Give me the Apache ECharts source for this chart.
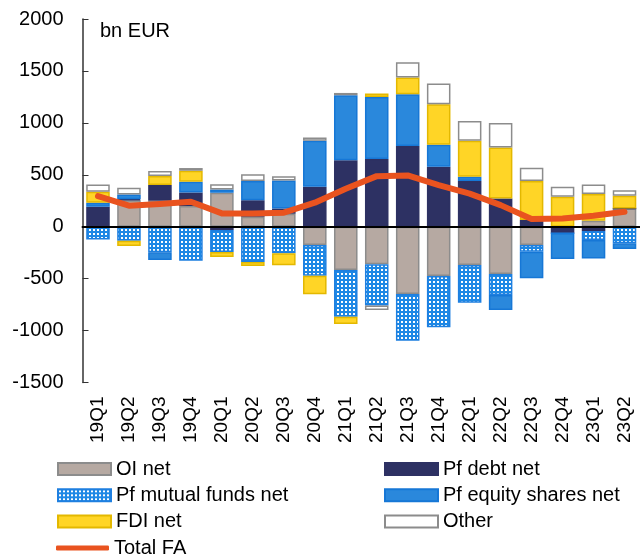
<!DOCTYPE html>
<html>
<head>
<meta charset="utf-8">
<script src="https://cdn.jsdelivr.net/npm/echarts@6/dist/echarts.min.js"></script>
<style>
  html, body { margin: 0; padding: 0; background: #fff; }
  #chart { width: 640px; height: 557px; }
</style>
</head>
<body>
<div id="chart"></div>
<script>
var quarters = ['19Q1', '19Q2', '19Q3', '19Q4', '20Q1', '20Q2', '20Q3', '20Q4', '21Q1',
                '21Q2', '21Q3', '21Q4', '22Q1', '22Q2', '22Q3', '22Q4', '23Q1', '23Q2'];
var oiNet      = [0, 255, 250, 199, 327, 96, 125, -176, -417, -362, -647, -474, -369, -455, -176, 0, 58, 176];
var pfDebt     = [192, 10, 151, 131, -32, 160, 50, 385, 641, 651, 776, 577, 439, 272, 64, -64, -42, 0];
var pfFunds    = [-122, -135, -247, -327, -212, -340, -256, -295, -449, -397, -452, -494, -362, -202, -64, 0, -87, -160];
var pfEquity   = [38, 45, -74, 103, 32, 183, 270, 442, 625, 599, 500, 212, 42, -144, -256, -247, -176, -54];
var fdiNet     = [106, -51, 87, 106, -48, -38, -115, -180, -70, 32, 160, 391, 346, 490, 375, 288, 256, 122];
var other      = [70, 65, 48, 26, 51, 67, 40, 32, 22, -42, 147, 199, 192, 237, 128, 96, 93, 54];
var totalFA    = [295, 202, 218, 240, 128, 128, 135, 231, 365, 487, 494, 401, 318, 208, 74, 80, 106, 144];

var font = 'Liberation Sans, Arial, sans-serif';

// dotted pattern for mutual funds
var pat = document.createElement('canvas');
pat.width = 4; pat.height = 4;
var ctx = pat.getContext('2d');
ctx.fillStyle = '#1E88E5';
ctx.fillRect(0, 0, 4, 4);
ctx.fillStyle = '#ffffff';
ctx.fillRect(1, 1, 2, 2);

function bar(name, data, fill, border) {
  return {
    name: name, type: 'bar', stack: 'fa', data: data, barWidth: '76%',
    xAxisIndex: 0,
    itemStyle: { color: fill, borderColor: border, borderWidth: 1.5 }
  };
}

function legendBox(left, top, names, h, icon) {
  return {
    left: left, top: top, orient: 'vertical', padding: 0,
    itemWidth: 53, itemHeight: h, itemGap: 6.3, icon: icon,
    textStyle: { fontSize: 20, lineHeight: 20, fontFamily: font, color: '#000' },
    data: names
  };
}

var myChart = echarts.init(document.getElementById('chart'));

var option = {
  animation: false,
  textStyle: { fontFamily: font },
  graphic: [{
    type: 'text', left: 100, top: 21,
    style: { text: 'bn EUR', fontSize: 20, fontFamily: font, fill: '#000' }
  }],
  grid: { left: 82.5, top: 19, width: 567, height: 363.5 },
  legend: [
    legendBox(57, 459, ['OI net', 'Pf mutual funds net', 'FDI net'], 12, 'rect'),
    legendBox(384, 459, ['Pf debt net', 'Pf equity shares net', 'Other'], 12, 'rect'),
    legendBox(56, 538, ['Total FA'], 5, 'roundRect')
  ],
  xAxis: [{
    type: 'category', data: quarters, z: 3,
    axisLine: { onZero: true, lineStyle: { color: '#000', width: 2 } },
    axisTick: { inside: true, length: 5, lineStyle: { color: '#000' } },
    axisLabel: { show: false }
  }, {
    type: 'category', data: quarters, position: 'bottom',
    axisLine: { show: false }, axisTick: { show: false },
    axisLabel: { rotate: 90, margin: 14, fontSize: 19, fontFamily: font, color: '#000' }
  }],
  yAxis: {
    type: 'value', min: -1500, max: 2000, interval: 500,
    splitLine: { show: false },
    axisLine: { show: true, lineStyle: { color: '#333', width: 1.5 } },
    axisTick: { show: true, inside: true, length: 6, lineStyle: { color: '#333' } },
    axisLabel: {
      fontSize: 20, margin: 19, fontFamily: font, color: '#000',
      formatter: function (v) { return String(v); }
    }
  },
  series: [
    bar('OI net', oiNet, '#B6A9A2', '#8C8C8C'),
    bar('Pf debt net', pfDebt, '#2D3163', '#2D3163'),
    bar('Pf mutual funds net', pfFunds, { image: pat, repeat: 'repeat' }, '#1E7FE0'),
    bar('Pf equity shares net', pfEquity, '#2A88DC', '#1677D6'),
    bar('FDI net', fdiNet, '#FFD526', '#E3B800'),
    bar('Other', other, '#FFFFFF', '#8C8C8C'),
    {
      name: 'Total FA', type: 'line', data: totalFA, xAxisIndex: 0,
      symbol: 'none', z: 5,
      lineStyle: { color: '#E9531F', width: 6, cap: 'round', join: 'round' },
      itemStyle: { color: '#E9531F' }
    }
  ]
};

myChart.setOption(option);
</script>
</body>
</html>
